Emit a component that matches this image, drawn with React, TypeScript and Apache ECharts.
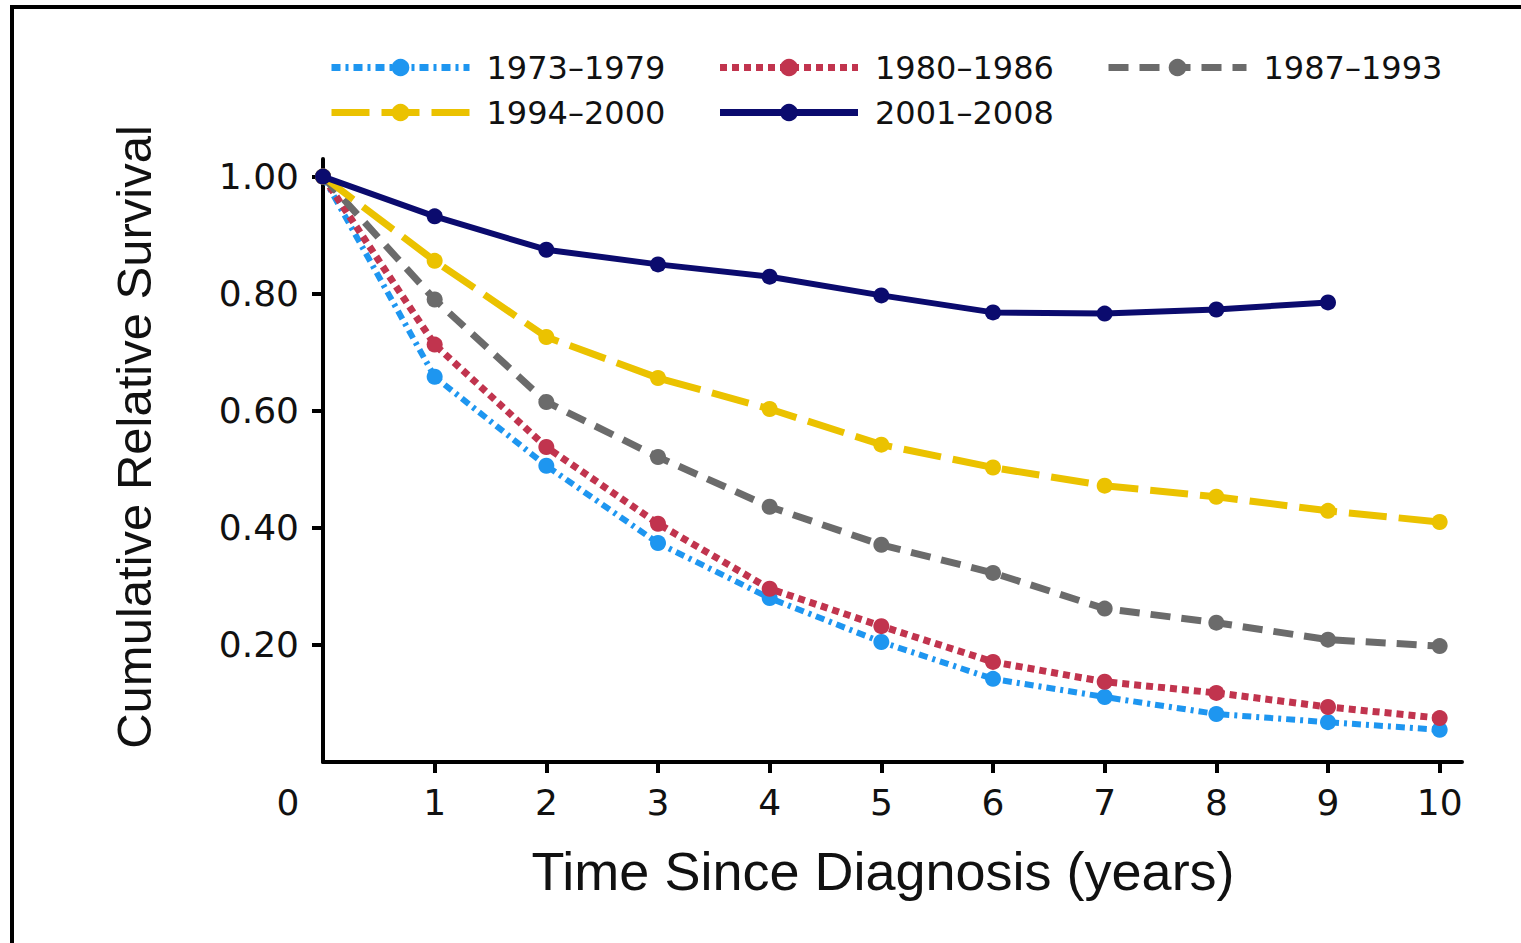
import React, { useEffect, useRef } from "react";
import * as echarts from "echarts";

const years = [0, 1, 2, 3, 4, 5, 6, 7, 8, 9, 10];
const seriesNames = ["1973–1979", "1980–1986", "1987–1993", "1994–2000", "2001–2008"];
const s1973 = [1.0, 0.658, 0.506, 0.374, 0.28, 0.205, 0.142, 0.111, 0.082, 0.068, 0.055];
const s1980 = [1.0, 0.713, 0.538, 0.407, 0.296, 0.232, 0.171, 0.137, 0.118, 0.094, 0.075];
const s1987 = [1.0, 0.79, 0.615, 0.521, 0.436, 0.371, 0.323, 0.262, 0.238, 0.209, 0.198];
const s1994 = [1.0, 0.856, 0.726, 0.656, 0.603, 0.542, 0.503, 0.472, 0.453, 0.429, 0.41];
const s2001 = [1.0, 0.932, 0.875, 0.85, 0.829, 0.797, 0.768, 0.766, 0.773, 0.785];
const yTicks = [0.2, 0.4, 0.6, 0.8, 1.0];
const xTicks = [1, 2, 3, 4, 5, 6, 7, 8, 9, 10];
const xTitle = "Time Since Diagnosis (years)";
const yTitle = "Cumulative Relative Survival";

const colors = ["#1E96F0", "#C1344E", "#6B6B6B", "#EBC200", "#0B0B6E"];
const dashes: (number[] | "solid")[] = [[9, 5, 3, 5], [7, 5], [20, 11], [38, 12], "solid"];
const widths = [6, 7, 7, 7, 6];
const allValues = [s1973, s1980, s1987, s1994, s2001];

const TICK_FONT = "'DejaVu Sans', sans-serif";
const NAME_FONT = "'Liberation Sans', Arial, sans-serif";

export default function App() {
  const ref = useRef<HTMLDivElement>(null);
  useEffect(() => {
    if (!ref.current) return;
    const chart = echarts.init(ref.current, undefined, { renderer: "svg" });
    const series = seriesNames.map((name, i) => ({
      name,
      type: "line",
      data: allValues[i].map((v, j) => [years[j], v]),
      symbol: "circle",
      symbolSize: 16,
      showSymbol: true,
      itemStyle: { color: colors[i] },
      lineStyle: { color: colors[i], width: widths[i], type: dashes[i] },
      z: 2 + i,
    }));
    chart.setOption({
      animation: false,
      backgroundColor: "#ffffff",
      grid: { left: 323, top: 159, width: 1139, bottom: 181 },
      legend: {
        data: seriesNames,
        left: 323,
        top: 45,
        width: 1180,
        orient: "horizontal",
        itemWidth: 138,
        itemHeight: 22,
        itemGap: 10,
        lineStyle: { width: 7 },
        textStyle: {
          fontFamily: TICK_FONT,
          fontSize: 32,
          color: "#111",
          width: 220,
          lineHeight: 35,
          padding: [0, 0, 0, 12],
        },
      },
      xAxis: {
        type: "value",
        min: 0,
        max: 10.2,
        axisLine: { show: true, onZero: false, lineStyle: { color: "#000", width: 4 } },
        axisTick: { show: true, length: 11, lineStyle: { color: "#000", width: 4 }, customValues: xTicks },
        axisLabel: {
          customValues: xTicks,
          margin: 22,
          fontFamily: TICK_FONT,
          fontSize: 36,
          color: "#111",
        },
        splitLine: { show: false },
      },
      yAxis: {
        type: "value",
        min: 0,
        max: 1.03,
        axisLine: { show: true, onZero: false, lineStyle: { color: "#000", width: 4 } },
        axisTick: { show: true, length: 11, lineStyle: { color: "#000", width: 4 }, customValues: yTicks },
        axisLabel: {
          customValues: yTicks,
          margin: 24,
          fontFamily: TICK_FONT,
          fontSize: 36,
          color: "#111",
          formatter: (v: number) => v.toFixed(2),
        },
        splitLine: { show: false },
      },
      graphic: [
        { type: "line", shape: { x1: 10, y1: 7, x2: 1521, y2: 7 }, style: { stroke: "#000", lineWidth: 4 }, z: 100 },
        { type: "line", shape: { x1: 12, y1: 5, x2: 12, y2: 943 }, style: { stroke: "#000", lineWidth: 4 }, z: 100 },
        {
          type: "text",
          x: 288,
          y: 802,
          style: { text: "0", fontFamily: TICK_FONT, fontSize: 36, fill: "#111", align: "center", verticalAlign: "middle" },
        },
        {
          type: "text",
          x: 883,
          y: 871,
          style: { text: xTitle, fontFamily: NAME_FONT, fontSize: 54, fill: "#111", align: "center", verticalAlign: "middle" },
        },
        {
          type: "text",
          x: 134,
          y: 437,
          rotation: Math.PI / 2,
          style: { text: yTitle, fontFamily: NAME_FONT, fontSize: 49, fill: "#111", align: "center", verticalAlign: "middle" },
        },
      ],
      series,
    });
    return () => chart.dispose();
  }, []);
  return <div ref={ref} style={{ position: "fixed", left: 0, top: 0, width: 1521, height: 943 }} />;
}
